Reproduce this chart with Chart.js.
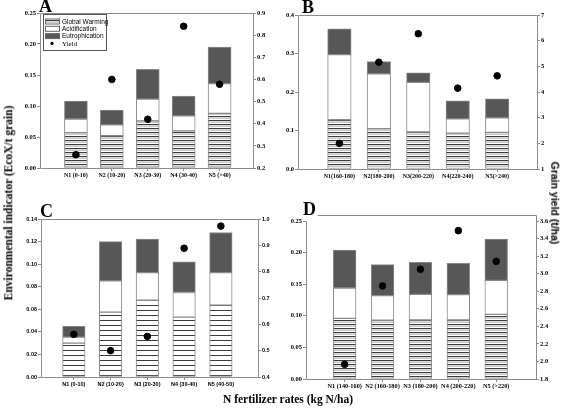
<!DOCTYPE html>
<html>
<head>
<meta charset="utf-8">
<script src="https://cdn.jsdelivr.net/npm/chart.js@4.4.1/dist/chart.umd.min.js"></script>
<style>
  body { margin: 0; background: #fff; width: 567px; height: 409px; position: relative; overflow: hidden; }
  canvas { position: absolute; }
  .lbl { position: absolute; font-family: "Liberation Serif", "Times New Roman", serif; font-weight: bold; color: #000; white-space: nowrap; line-height: 1; }
  .letter { font-size: 18px; }
</style>
</head>
<body>
<canvas id="pA" width="290" height="190" style="left:0;top:0;width:290px;height:190px"></canvas>
<canvas id="pB" width="289" height="190" style="left:278px;top:0;width:289px;height:190px"></canvas>
<canvas id="pC" width="290" height="195" style="left:0;top:200px;width:290px;height:195px"></canvas>
<canvas id="pD" width="289" height="195" style="left:278px;top:200px;width:289px;height:195px"></canvas>

<div class="lbl letter" style="left:39px;top:-3px">A</div>
<div class="lbl letter" style="left:302px;top:-2px">B</div>
<div class="lbl letter" style="left:40px;top:202px">C</div>
<div class="lbl letter" style="left:303px;top:200px">D</div>

<div class="lbl" style="left:9px;top:203px;font-size:11.5px;transform:translate(-50%,-50%) rotate(-90deg)">Environmental indicator (EcoX/t grain)</div>
<div class="lbl" style="left:555px;top:203px;font-size:10.5px;font-family:'Liberation Sans',Arial,sans-serif;transform:translate(-50%,-50%) rotate(90deg)">Grain yield (t/ha)</div>
<div class="lbl" style="left:288px;top:400px;font-size:11.5px;transform:translate(-50%,-50%)">N fertilizer rates (kg N/ha)</div>

<script>
// panel A
const catsA = ['N1 (0-10)', 'N2 (10-20)', 'N3 (20-30)', 'N4 (30-40)', 'N5 (>40)'];
const warmA = [0.057, 0.052, 0.076, 0.060, 0.088];
const acidA = [0.022, 0.0175, 0.035, 0.024, 0.048];
const eutroA = [0.029, 0.024, 0.048, 0.032, 0.059];
const yieldA = [0.26, 0.60, 0.42, 0.84, 0.578];

// panel B
const catsB = ['N1(160-180)', 'N2(180-200)', 'N3(200-220)', 'N4(220-240)', 'N5(>240)'];
const warmB = [0.128, 0.105, 0.096, 0.093, 0.095];
const acidB = [0.169, 0.142, 0.129, 0.037, 0.038];
const eutroB = [0.067, 0.032, 0.025, 0.047, 0.049];
const yieldB = [2.0, 5.16, 6.27, 4.15, 4.63];

// panel C
const catsC = ['N1 (0-10)', 'N2 (10-20)', 'N3 (20-30)', 'N4 (30-40)', 'N5 (40-50)'];
const warmC = [0.030, 0.0575, 0.068, 0.053, 0.0637];
const acidC = [0.0054, 0.0277, 0.0245, 0.0219, 0.0288];
const eutroC = [0.0096, 0.0348, 0.0298, 0.0271, 0.0355];
const yieldC = [0.562, 0.50, 0.554, 0.889, 0.973];

// panel D
const catsD = ['N1 (140-160)', 'N2 (160-180)', 'N3 (180-200)', 'N4 (200-220)', 'N5 (>220)'];
const warmD = [0.096, 0.093, 0.0934, 0.0934, 0.1023];
const acidD = [0.048, 0.039, 0.0406, 0.040, 0.0537];
const eutroD = [0.060, 0.049, 0.0506, 0.0496, 0.0655];
const yieldD = [1.967, 2.86, 3.05, 3.49, 3.14];

const axisGray = '#8c8c8c';
const edgeGray = '#8a8a8a';
const darkFill = '#575757';
const serif = '"Liberation Serif", "Times New Roman", serif';
const sans = '"Liberation Sans", Arial, sans-serif';

Chart.defaults.color = '#000';
Chart.defaults.animation = false;

function hatch(rows) {
  const c = document.createElement('canvas');
  c.width = 4; c.height = rows.length;
  const g = c.getContext('2d');
  rows.forEach((col, i) => { g.fillStyle = col; g.fillRect(0, i, 4, 1); });
  return g.createPattern(c, 'repeat');
}
const denseHatch = hatch(['#3c3c3c', '#dcdcdc', '#c9c9c9', '#ffffff']);
const thinHatch = hatch(['#3c3c3c', '#ffffff', '#ffffff', '#ffffff', '#ffffff']);

// box around the plot area (lift: top line drawn higher, as in panel D)
const frame = {
  id: 'frame',
  beforeDatasetsDraw(chart, args, o) {
    const { ctx, chartArea: a } = chart;
    const l = Math.round(a.left) + 0.5, r = Math.round(a.right) + 0.5;
    const t = Math.round(a.top) + 0.5, b = Math.round(a.bottom) + 0.5;
    const lift = o.lift || 0, inset = o.inset || 0;
    ctx.save();
    ctx.strokeStyle = axisGray;
    ctx.lineWidth = 1;
    ctx.beginPath();
    ctx.moveTo(l, b); ctx.lineTo(r, b);
    ctx.moveTo(l, b); ctx.lineTo(l, t);
    ctx.moveTo(r, b); ctx.lineTo(r, t - lift);
    ctx.lineTo(l + inset, t - lift);
    ctx.stroke();
    ctx.restore();
  }
};

// legend drawn inside panel A
const boxLegend = {
  id: 'boxLegend',
  afterDraw(chart, args, o) {
    if (!o.show) return;
    const ctx = chart.ctx;
    ctx.save();
    ctx.fillStyle = '#fff';
    ctx.fillRect(o.x, o.y, o.w, o.h);
    ctx.strokeStyle = '#555';
    ctx.lineWidth = 1;
    ctx.strokeRect(o.x + 0.5, o.y + 0.5, o.w, o.h);
    chart.data.datasets.forEach((ds, i) => {
      const cy = o.y + 7.5 + i * 7.3;
      if (ds.type === 'line') {
        ctx.fillStyle = '#000';
        ctx.beginPath();
        ctx.arc(o.x + 9, cy, 1.6, 0, Math.PI * 2);
        ctx.fill();
        ctx.font = '7px ' + serif;
      } else {
        ctx.fillStyle = ds.backgroundColor;
        ctx.fillRect(o.x + 2, cy - 2.5, 14, 5);
        ctx.strokeStyle = '#666';
        ctx.strokeRect(o.x + 2.5, cy - 2.5, 14, 5);
        ctx.font = '6.5px ' + sans;
      }
      ctx.fillStyle = '#000';
      ctx.textBaseline = 'middle';
      ctx.fillText(ds.label, o.x + 19, cy + 0.5);
    });
    ctx.restore();
  }
};

function pts(vals) {
  return vals.map((v, i) => ({ x: i + 1, y: v }));
}

function panel(id, p) {
  const ctx = document.getElementById(id).getContext('2d');
  const barOpts = { borderColor: edgeGray, borderWidth: 1, borderSkipped: false, barThickness: p.bw, order: 1 };
  return new Chart(ctx, {
    type: 'bar',
    data: {
      datasets: [
        Object.assign({ label: 'Global Warming', data: pts(p.warm), backgroundColor: p.pattern }, barOpts),
        Object.assign({ label: 'Acidification', data: pts(p.acid), backgroundColor: '#fff' }, barOpts),
        Object.assign({ label: 'Eutrophication', data: pts(p.eutro), backgroundColor: darkFill }, barOpts),
        {
          type: 'line', label: 'Yield', data: pts(p.yld), yAxisID: 'y1', showLine: false,
          pointRadius: 3.3, pointBackgroundColor: '#000', pointBorderColor: '#000', order: 0
        }
      ]
    },
    options: {
      responsive: false,
      devicePixelRatio: 1,
      layout: { padding: { top: p.top, left: 0, right: 0, bottom: 0 } },
      plugins: {
        legend: { display: false },
        tooltip: { enabled: false },
        boxLegend: p.legend || { show: false },
        frame: p.frame || {}
      },
      scales: {
        x: {
          type: 'linear', min: p.xmin, max: p.xmax, stacked: true, offset: false,
          afterBuildTicks: s => { s.ticks = p.cats.map((c, i) => ({ value: i + 1 })); },
          afterFit: s => { s.height = p.xh; },
          grid: { drawOnChartArea: false, offset: false, tickLength: 3, color: axisGray },
          border: { display: false },
          ticks: { callback: v => p.cats[v - 1], font: p.xfont, padding: 1, maxRotation: 0, autoSkip: false }
        },
        y: {
          min: p.y[0], max: p.y[1], stacked: true,
          afterFit: s => { s.width = p.yw; },
          grid: { drawOnChartArea: false, tickLength: 3, color: axisGray },
          border: { display: false },
          ticks: { stepSize: p.y[2], callback: v => v.toFixed(p.y[3]), font: p.yfont, padding: 1, autoSkip: false }
        },
        y1: {
          position: 'right', min: p.y1[0], max: p.y1[1],
          afterFit: s => { s.width = p.y1w; },
          grid: { drawOnChartArea: false, tickLength: 3, color: axisGray },
          border: { display: false },
          ticks: { stepSize: p.y1[2], callback: v => v.toFixed(p.y1[3]), font: p.yfont, padding: 1, autoSkip: false }
        }
      }
    },
    plugins: [frame, boxLegend]
  });
}

const serifTick = { family: serif, size: 6.5, weight: 'bold' };
const serifX = { family: serif, size: 6, weight: 'bold' };

panel('pA', {
  cats: catsA, warm: warmA, acid: acidA, eutro: eutroA, yld: yieldA,
  pattern: denseHatch, bw: 23, xmin: 0, xmax: 5.93,
  top: 13, xh: 22, yw: 40, y1w: 37,
  y: [0, 0.25, 0.05, 2], y1: [0.2, 0.9, 0.1, 1],
  yfont: serifTick, xfont: serifX,
  legend: { show: true, x: 43, y: 14, w: 63, h: 36 }
});

panel('pB', {
  cats: catsB, warm: warmB, acid: acidB, eutro: eutroB, yld: yieldB,
  pattern: denseHatch, bw: 23.5, xmin: -0.05, xmax: 6.01,
  top: 15, xh: 21, yw: 20, y1w: 30,
  y: [0, 0.4, 0.1, 1], y1: [1, 7, 1, 0],
  yfont: serifTick, xfont: serifX
});

panel('pC', {
  cats: catsC, warm: warmC, acid: acidC, eutro: eutroC, yld: yieldC,
  pattern: thinHatch, bw: 22.5, xmin: 0.107, xmax: 6.01,
  top: 19, xh: 18, yw: 41, y1w: 32,
  y: [0, 0.14, 0.02, 2], y1: [0.4, 1.0, 0.1, 1],
  yfont: { family: sans, size: 5.5, weight: 'bold' }, xfont: { family: sans, size: 5.5, weight: 'bold' }
});

panel('pD', {
  cats: catsD, warm: warmD, acid: acidD, eutro: eutroD, yld: yieldD,
  pattern: denseHatch, bw: 22.7, xmin: -0.02, xmax: 6.05,
  top: 21, xh: 16, yw: 28, y1w: 31,
  y: [0, 0.25, 0.05, 2], y1: [1.8, 3.6, 0.2, 1],
  yfont: serifTick, xfont: { family: serif, size: 6.3, weight: 'bold' },
  frame: { lift: 6, inset: 11 }
});
</script>
</body>
</html>
